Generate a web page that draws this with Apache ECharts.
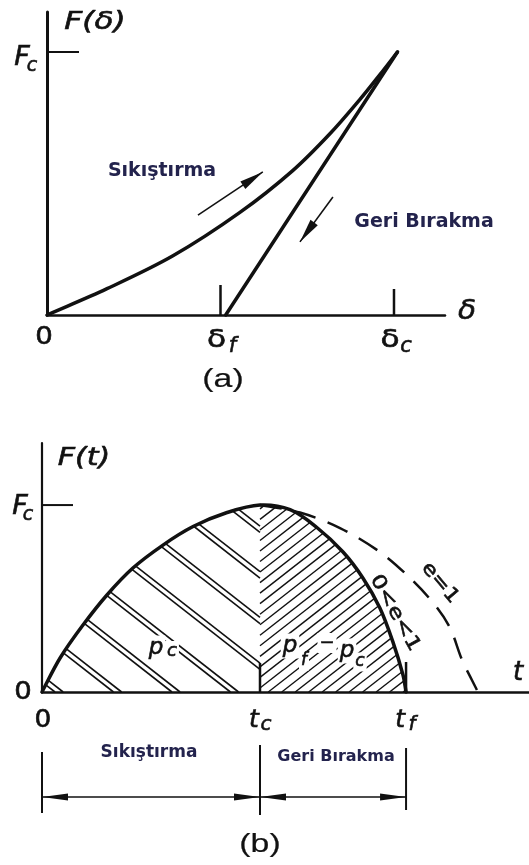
<!DOCTYPE html>
<html>
<head>
<meta charset="utf-8">
<script src="https://cdn.jsdelivr.net/npm/echarts/dist/echarts.min.js"></script>
<style>
  html, body { margin: 0; padding: 0; background: #fff; }
  #chart { width: 529px; height: 865px; }
</style>
</head>
<body>
<div id="chart"></div>
<script>
// ---------- (a) force vs. deflection: compression / restitution loop ----------
// deflection in units of δc, force in units of Fc
const compressionA = [[0, 0], [0.173, 0.1], [0.363, 0.225], [0.556, 0.39], [0.709, 0.55],
                      [0.816, 0.69], [0.902, 0.82], [0.96, 0.915], [1.01, 1.0]];
const restitutionA = [[1.01, 1.0], [0.515, 0]];
const deltaTicks = [0.5, 1.0];                 // δf, δc
const deltaTickLabels = [['δ', 'f'], ['δ', 'c']];
const forcePeak = 1.0;                          // Fc
// direction arrows: [from δ, from F, to δ, to F]
const arrowsA = [[0.435, 0.38, 0.622, 0.544], [0.824, 0.449, 0.729, 0.278]];

// ---------- (b) force vs. time during impact ----------
// time in units of tc, force in units of Fc
const compressionB = [[0, 0], [0.083, 0.182], [0.188, 0.358], [0.298, 0.519], [0.417, 0.663],
                      [0.555, 0.786], [0.693, 0.885], [0.849, 0.96], [1.0, 1.0]];
const restitutionB = [[1.0, 1.0], [1.138, 0.975], [1.261, 0.88], [1.381, 0.749], [1.472, 0.61],
                      [1.55, 0.449], [1.61, 0.267], [1.656, 0.091], [1.67, 0]];
const elasticB = [[1.0, 1.0], [1.183, 0.96], [1.367, 0.877], [1.55, 0.749], [1.688, 0.61],
                  [1.803, 0.465], [1.872, 0.342], [1.927, 0.171], [1.972, 0.064], [2.0, 0]];
const timeTicks = [0, 1.0, 1.67];               // 0, tc, tf
const timeTickLabels = [['0', ''], ['t', 'c'], ['t', 'f']];

const INK = '#111';
const NAVY = '#23234d';
const FAM = '"DejaVu Sans", sans-serif';

const chart = echarts.init(document.getElementById('chart'), null, { renderer: 'canvas' });

function valueAxis(gridIndex, max, lineWidth, show, min) {
  return {
    type: 'value', gridIndex, min: min || 0, max,
    axisLine: { show, onZero: false, lineStyle: { color: INK, width: lineWidth } },
    axisTick: { show: false }, axisLabel: { show: false }, splitLine: { show: false }
  };
}

// ---- smooth curve through pixel points (chord-length tangents, cubic Bézier pieces) ----
function bezierPieces(pts) {
  const n = pts.length, pieces = [];
  const tan = pts.map((p, i) => {
    const a = pts[Math.max(0, i - 1)], b = pts[Math.min(n - 1, i + 1)];
    const dx = b[0] - a[0], dy = b[1] - a[1], l = Math.hypot(dx, dy) || 1;
    return [dx / l, dy / l];
  });
  for (let i = 0; i + 1 < n; i++) {
    const p0 = pts[i], p1 = pts[i + 1];
    const d = Math.hypot(p1[0] - p0[0], p1[1] - p0[1]) / 3;
    pieces.push([p0, [p0[0] + tan[i][0] * d, p0[1] + tan[i][1] * d],
                 [p1[0] - tan[i + 1][0] * d, p1[1] - tan[i + 1][1] * d], p1]);
  }
  return pieces;
}
function pathData(pieces) {
  let s = 'M' + pieces[0][0][0] + ' ' + pieces[0][0][1];
  pieces.forEach(q => { s += ' C' + [q[1], q[2], q[3]].map(p => p[0] + ' ' + p[1]).join(' '); });
  return s;
}
function flatten(pieces, steps) {
  const out = [pieces[0][0]];
  pieces.forEach(q => {
    for (let k = 1; k <= steps; k++) {
      const t = k / steps, u = 1 - t;
      const w = [u * u * u, 3 * u * u * t, 3 * u * t * t, t * t * t];
      out.push([0, 1].map(j => w[0] * q[0][j] + w[1] * q[1][j] + w[2] * q[2][j] + w[3] * q[3][j]));
    }
  });
  return out;
}
function curveSeries(axisIdx, pts, width, dash) {
  return {
    type: 'custom', xAxisIndex: axisIdx, yAxisIndex: axisIdx, data: pts, z: 3,
    renderItem: (params, api) => {
      if (params.dataIndex !== 0) return null;
      const px = pts.map(p => api.coord(p));
      return { type: 'path', shape: { pathData: pathData(bezierPieces(px)) },
               style: { fill: null, stroke: INK, lineWidth: width, lineDash: dash || null,
                        lineCap: dash ? 'butt' : 'round', lineJoin: 'round' } };
    }
  };
}

// filled arrowhead polygon with its tip at p, body running along direction u
function head(p, u, len, w) {
  const bx = p[0] + u[0] * len, by = p[1] + u[1] * len;
  const nx = -u[1] * w / 2, ny = u[0] * w / 2;
  return { type: 'polygon', shape: { points: [p, [bx + nx, by + ny], [bx - nx, by - ny]] },
           style: { fill: INK } };
}
function unit(a, b) {
  const dx = b[0] - a[0], dy = b[1] - a[1], l = Math.hypot(dx, dy);
  return [dx / l, dy / l];
}

// clip a family of parallel lines (direction dir, offsets along normal) to a polygon
function clipLines(poly, dir, offsets) {
  const n = [-dir[1], dir[0]];
  const segs = [];
  offsets.forEach(c => {
    const pts = [];
    for (let i = 0; i < poly.length; i++) {
      const a = poly[i], b = poly[(i + 1) % poly.length];
      const da = n[0] * a[0] + n[1] * a[1] - c, db = n[0] * b[0] + n[1] * b[1] - c;
      if ((da < 0) !== (db < 0)) {
        const t = da / (da - db);
        pts.push([a[0] + (b[0] - a[0]) * t, a[1] + (b[1] - a[1]) * t]);
      }
    }
    pts.sort((p, q) => (p[0] * dir[0] + p[1] * dir[1]) - (q[0] * dir[0] + q[1] * dir[1]));
    for (let k = 0; k + 1 < pts.length; k += 2) segs.push([pts[k], pts[k + 1]]);
  });
  return segs;
}
function normalRange(poly, dir) {
  const n = [-dir[1], dir[0]];
  const v = poly.map(p => n[0] * p[0] + n[1] * p[1]);
  return [Math.min.apply(null, v), Math.max.apply(null, v)];
}

function hatchRender(params, api) {
  const whole = compressionB.concat(restitutionB.slice(1)).map(p => api.coord(p));
  const nL = compressionB.length - 1;
  const pieces = bezierPieces(whole);
  const steps = 16;
  const outline = flatten(pieces, steps);
  const tcPx = api.coord([compressionB[nL][0], 0]);
  const left = outline.slice(0, nL * steps + 1).concat([tcPx]);
  const right = outline.slice(nL * steps).concat([tcPx]);
  const a = 38 * Math.PI / 180;
  const dL = [Math.cos(a), Math.sin(a)];     // "\" strokes on the compression side
  const dR = [Math.cos(a), -Math.sin(a)];    // "/" strokes on the restitution side
  const offL = [];
  const rL = normalRange(left, dL);
  for (let g = rL[1] - 8; g > rL[0]; g -= 36) { offL.push(g, g - 5); }
  const offR = [];
  const rR = normalRange(right, dR);
  for (let g = rR[0] + 3; g < rR[1]; g += 8.3) offR.push(g);
  const segs = clipLines(left, dL, offL).map(s => [s, 1.6])
    .concat(clipLines(right, dR, offR).map(s => [s, 1.4]));
  return {
    type: 'group',
    children: segs.map(([s, w]) => ({
      type: 'line', shape: { x1: s[0][0], y1: s[0][1], x2: s[1][0], y2: s[1][1] },
      style: { stroke: INK, lineWidth: w }
    }))
  };
}

function arrowRender(params, api) {
  const p1 = api.coord([api.value(0), api.value(1)]);
  const p2 = api.coord([api.value(2), api.value(3)]);
  return {
    type: 'group',
    children: [
      { type: 'line', shape: { x1: p1[0], y1: p1[1], x2: p2[0], y2: p2[1] },
        style: { stroke: INK, lineWidth: 1.6 } },
      head(p2, unit(p2, p1), 24, 9)
    ]
  };
}

// vertical ticks rising from the time / deflection axis
function vTickRender(lengths) {
  return function (params, api) {
    const p = api.coord([api.value(0), 0]);
    const len = lengths[params.dataIndex];
    if (!len) return null;
    return { type: 'line', shape: { x1: p[0], y1: p[1], x2: p[0], y2: p[1] - len },
             style: { stroke: INK, lineWidth: 2.5 } };
  };
}
function hTickRender(len) {
  return function (params, api) {
    const p = api.coord([0, api.value(1)]);
    return { type: 'line', shape: { x1: p[0], y1: p[1], x2: p[0] + len, y2: p[1] },
             style: { stroke: INK, lineWidth: 2 } };
  };
}

// dimension line below (b): bars at 0, tc, tf and double-headed spans between them
const barReach = [[45, 16], [52, 18], [49, 13]];
function barRender(params, api) {
  const p = api.coord([api.value(0), 0]);
  const r = barReach[params.dataIndex];
  return { type: 'line', shape: { x1: p[0], y1: p[1] - r[0], x2: p[0], y2: p[1] + r[1] },
           style: { stroke: INK, lineWidth: 2 } };
}
function spanRender(params, api) {
  const p1 = api.coord([api.value(0), 0]);
  const p2 = api.coord([api.value(2), 0]);
  return {
    type: 'group',
    children: [
      { type: 'line', shape: { x1: p1[0], y1: p1[1], x2: p2[0], y2: p2[1] },
        style: { stroke: INK, lineWidth: 1.6 } },
      head(p1, unit(p1, p2), 26, 7),
      head(p2, unit(p2, p1), 26, 7)
    ]
  };
}
const spans = [];
for (let i = 0; i + 1 < timeTicks.length; i++) spans.push([timeTicks[i], 0, timeTicks[i + 1], 0]);

const option = {
  animation: false,
  backgroundColor: '#fff',
  grid: [
    { left: 47, top: 12, width: 398, height: 303, outerBoundsMode: 'none' },
    { left: 42, top: 443, width: 487, height: 249, outerBoundsMode: 'none' },
    { left: 42, top: 737, width: 487, height: 120, outerBoundsMode: 'none' }
  ],
  xAxis: [
    valueAxis(0, 1.147, 2.5, true),
    valueAxis(1, 2.234, 2.5, true),
    valueAxis(2, 2.234, 1, false)
  ],
  yAxis: [
    valueAxis(0, 1.152, 3, true),
    valueAxis(1, 1.332, 2.2, true),
    valueAxis(2, 1, 1, false, -1)
  ],
  series: [
    // (a)
    curveSeries(0, compressionA, 3.5),
    curveSeries(0, restitutionA, 3.5),
    { type: 'custom', xAxisIndex: 0, yAxisIndex: 0, data: arrowsA,
      encode: { x: [0, 2], y: [1, 3] }, renderItem: arrowRender, z: 3 },
    { type: 'custom', xAxisIndex: 0, yAxisIndex: 0, data: deltaTicks.map(v => [v, 0]),
      renderItem: vTickRender([30, 26]), z: 3 },
    { type: 'custom', xAxisIndex: 0, yAxisIndex: 0, data: [[0, forcePeak]],
      renderItem: hTickRender(32), z: 3 },
    // (b)
    { type: 'custom', xAxisIndex: 1, yAxisIndex: 1, data: [[0, 0]],
      renderItem: hatchRender, z: 1 },
    curveSeries(1, compressionB.concat(restitutionB.slice(1)), 3.5),
    curveSeries(1, elasticB, 2.5, [22, 13]),
    { type: 'custom', xAxisIndex: 1, yAxisIndex: 1, data: timeTicks.map(v => [v, 0]),
      renderItem: vTickRender([0, 29, 30]), z: 3 },
    { type: 'custom', xAxisIndex: 1, yAxisIndex: 1, data: [[0, forcePeak]],
      renderItem: hTickRender(31), z: 3 },
    // dimension line under (b)
    { type: 'custom', xAxisIndex: 2, yAxisIndex: 2, data: timeTicks.map(v => [v, 0]),
      renderItem: barRender, z: 3 },
    { type: 'custom', xAxisIndex: 2, yAxisIndex: 2, data: spans,
      encode: { x: [0, 2], y: [1, 3] }, renderItem: spanRender, z: 3 }
  ]
};
chart.setOption(option);

// ---------- text ----------
function txt(text, x, y, o) {
  o = o || {};
  const style = {
    text, fill: o.color || INK, align: 'center', verticalAlign: 'middle',
    font: (o.it ? 'italic ' : '') + (o.bold ? 'bold ' : '') + (o.size || 22) + 'px ' + (o.fam || FAM)
  };
  if (!o.bold) { style.stroke = o.color || INK; style.lineWidth = o.heavy || 0.6; }
  if (o.bg) { style.backgroundColor = o.bg; style.padding = [1, 2]; }
  return { type: 'text', x, y, z: 100, rotation: (o.rot || 0) * Math.PI / 180,
           scaleX: o.sx || 1, style };
}

const els = [];
// axis titles and peak-force labels
els.push(txt('F(δ)', 95, 22, { it: true, size: 25, sx: 1.25 }));
els.push(txt('F', 22, 58, { it: true, size: 27 }), txt('c', 32, 66, { it: true, size: 19 }));
els.push(txt('δ', 467, 312, { it: true, size: 27, sx: 1.1 }));
els.push(txt('F(t)', 84, 458, { it: true, size: 25, sx: 1.2 }));
els.push(txt('F', 20, 507, { it: true, size: 27 }), txt('c', 28, 515, { it: true, size: 19 }));
els.push(txt('0', 23, 692, { size: 25, sx: 1.1 }));
els.push(txt('t', 518, 673, { it: true, size: 26 }));

// tick labels placed from the tick values
const oa = chart.convertToPixel({ gridIndex: 0 }, [0, 0]);
els.push(txt('0', oa[0] - 3, oa[1] + 23, { size: 24, sx: 1.15 }));
deltaTicks.forEach((v, i) => {
  const p = chart.convertToPixel({ gridIndex: 0 }, [v, 0]);
  els.push(txt(deltaTickLabels[i][0], p[0] - 4, p[1] + 25, { size: 25, sx: 1.25 }));
  els.push(txt(deltaTickLabels[i][1], p[0] + 12, p[1] + 32, { it: true, size: 21 }));
});
timeTicks.forEach((v, i) => {
  const p = chart.convertToPixel({ gridIndex: 1 }, [v, 0]);
  const lb = timeTickLabels[i];
  if (!lb[1]) { els.push(txt(lb[0], p[0] + 1, p[1] + 29, { size: 24, sx: 1.1 })); return; }
  els.push(txt(lb[0], p[0] - 6, p[1] + 28, { it: true, size: 25 }));
  els.push(txt(lb[1], p[0] + 6, p[1] + 33, { it: true, size: 20 }));
});

// phase labels
els.push(txt('Sıkıştırma', 162, 171, { bold: true, size: 19, color: NAVY }));
els.push(txt('Geri Bırakma', 424, 222, { bold: true, size: 19, color: NAVY }));
els.push(txt('Sıkıştırma', 149, 753, { bold: true, size: 17, color: NAVY }));
els.push(txt('Geri Bırakma', 336, 757, { bold: true, size: 16, color: NAVY }));

// impulse areas
els.push(txt('p', 156, 648, { it: true, size: 23, bg: '#fff' }), txt('c', 172, 651, { it: true, size: 18, bg: '#fff' }));
els.push(txt('p', 290, 646, { it: true, size: 23, bg: '#fff' }), txt('f', 304, 661, { it: true, size: 17, bg: '#fff' }));
els.push(txt('−', 327, 643, { size: 18, bg: '#fff' }));
els.push(txt('p', 347, 651, { it: true, size: 23, bg: '#fff' }), txt('c', 360, 662, { it: true, size: 17, bg: '#fff' }));

// restitution coefficient labels along the unloading curves
els.push(txt('0<e<1', 395, 613, { size: 19, rot: -61, sx: 1.25 }));
els.push(txt('e=1', 440, 583, { size: 19, rot: -50, sx: 1.2 }));

// panel captions
els.push(txt('(a)', 223, 380, { size: 26, sx: 1.3, fam: '"Liberation Sans", sans-serif', heavy: 0.2 }));
els.push(txt('(b)', 260, 845, { size: 26, sx: 1.3, fam: '"Liberation Sans", sans-serif', heavy: 0.2 }));

chart.setOption({ graphic: { elements: els } });
</script>
</body>
</html>
